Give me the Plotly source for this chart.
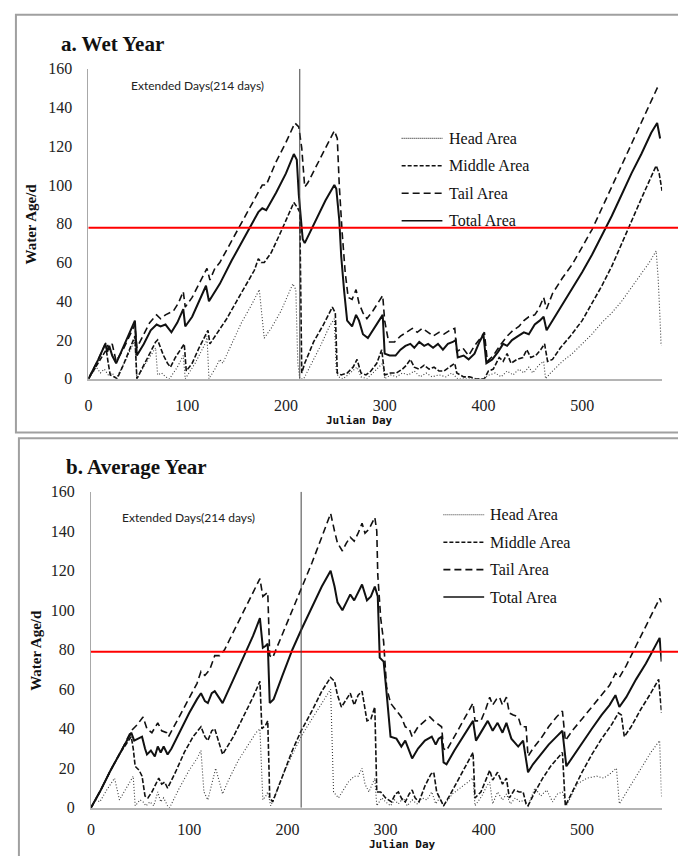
import plotly.graph_objects as go

W, H = 678, 856

# ---------------- data: (Julian day, water age in days) ----------------
wet_head = [(0,0),(4,3),(8,6),(12,3),(16,5),(20,2),(24,3),(28,0),(38,10),(47,20),(49,0),(58,8),(68,16),(70,2),(74,3),(78,1),(82,0),(90,6),(96,12),(98,0),(108,8),(115,15),(119,19),(120,22),(122,0),(128,5),(133,10),(136,8),(145,18),(155,29),(165,38),(173,46),(178,21),(185,26),(195,35),(203,44),(207,49),(210,46),(212,8),(214,0),(218,0),(225,7),(235,17),(244,27),(249,31),(251,4),(253,1),(258,0),(263,2),(268,4),(272,6),(276,1),(282,0),(288,3),(294,6),(298,8),(300,0),(306,2),(312,1),(318,3),(324,2),(330,4),(336,1),(342,3),(348,1),(355,2),(362,1),(368,3),(374,0),(400,0),(406,2),(412,3),(418,1),(424,4),(430,2),(436,5),(441,3),(446,6),(450,3),(456,7),(461,9),(463,0),(468,3),(474,6),(480,9),(490,13),(500,18),(510,23),(520,29),(530,34),(540,40),(550,47),(560,54),(568,60),(575,66),(577,52),(579,30),(580,17)]
wet_middle = [(0,0),(8,7),(14,12),(18,15),(20,8),(22,2),(26,1),(29,0),(36,8),(44,18),(47,22),(49,0),(55,6),(62,13),(68,19),(70,20),(73,16),(76,12),(80,8),(83,6),(88,11),(93,15),(97,18),(99,4),(105,8),(112,16),(118,22),(121,25),(123,18),(128,22),(133,26),(140,31),(150,40),(160,49),(168,56),(172,62),(175,60),(178,60),(185,65),(195,76),(203,85),(208,91),(212,88),(214,86),(216,3),(219,8),(228,19),(238,28),(247,37),(250,34),(252,3),(256,2),(262,3),(268,6),(272,10),(276,3),(281,2),(286,4),(292,8),(297,15),(300,2),(306,3),(312,3),(318,5),(322,7),(326,10),(330,6),(335,5),(340,7),(345,5),(350,6),(355,4),(360,4),(366,6),(371,8),(373,3),(380,1),(386,1),(392,0),(401,0),(405,4),(410,5),(416,11),(420,9),(424,13),(428,8),(434,10),(440,11),(444,15),(448,11),(453,12),(458,15),(462,18),(465,9),(470,10),(478,16),(488,22),(500,30),(510,39),(520,48),(530,58),(540,70),(548,79),(560,93),(570,104),(575,110),(578,106),(581,97)]
wet_tail = [(0,0),(10,10),(18,19),(21,15),(24,18),(28,9),(35,15),(47,28),(49,16),(55,22),(62,29),(69,33),(73,31),(78,33),(82,34),(86,35),(91,39),(96,45),(98,37),(105,42),(112,49),(120,57),(123,51),(128,57),(133,60),(145,71),(160,85),(172,96),(176,100),(180,100),(190,112),(200,122),(209,132),(213,130),(216,119),(219,99),(222,101),(235,114),(249,128),(252,124),(254,100),(257,75),(260,55),(263,42),(267,41),(271,46),(274,39),(278,34),(282,31),(288,35),(293,39),(298,43),(300,30),(304,19),(310,19),(316,22),(322,24),(328,26),(333,24),(338,26),(344,24),(349,22),(355,24),(360,23),(366,25),(371,26),(373,14),(379,16),(385,12),(391,17),(397,21),(401,24),(404,9),(410,12),(418,18),(424,22),(430,25),(436,27),(441,30),(446,32),(452,33),(456,36),(461,42),(464,36),(470,44),(480,52),(490,59),(500,68),(510,77),(520,88),(530,99),(540,110),(550,121),(560,132),(570,143),(576,150),(579,149)]
wet_total = [(0,0),(10,10),(17,18),(19,14),(21,17),(24,12),(28,8),(35,16),(47,30),(49,12),(56,18),(63,25),(69,28),(73,27),(78,28),(84,24),(90,29),(96,36),(98,27),(105,32),(112,40),(119,48),(122,40),(128,45),(133,49),(145,61),(160,75),(172,86),(176,88),(180,87),(190,96),(200,106),(208,116),(211,113),(213,95),(215,82),(217,72),(219,70),(230,82),(240,92),(249,100),(251,98),(254,82),(256,63),(259,45),(262,30),(267,27),(271,33),(274,30),(278,23),(283,21),(288,25),(294,30),(298,33),(300,13),(305,12),(311,12),(316,15),(321,17),(326,18),(330,16),(335,19),(340,17),(344,18),(349,16),(354,18),(359,15),(364,18),(369,19),(372,20),(374,11),(380,12),(385,10),(391,13),(396,19),(400,23),(403,8),(409,10),(415,14),(420,18),(424,17),(429,20),(435,22),(441,24),(446,23),(452,28),(457,30),(461,32),(464,25),(470,30),(480,38),(490,46),(500,55),(510,64),(520,74),(530,84),(540,95),(550,106),(560,116),(570,127),(576,132),(579,124)]

avg_head = [(0,0),(5,4),(9,3),(16,9),(24,15),(29,4),(36,10),(43,16),(45,1),(50,4),(53,3),(56,1),(60,3),(64,1),(68,8),(71,3),(74,5),(78,1),(80,0),(90,10),(100,19),(108,25),(112,29),(115,8),(119,4),(124,14),(127,20),(134,7),(140,14),(150,24),(160,32),(168,38),(172,40),(175,4),(178,6),(180,8),(183,1),(195,16),(205,27),(215,37),(225,45),(235,53),(244,60),(247,8),(252,5),(257,9),(262,13),(268,16),(272,16),(276,20),(279,12),(283,8),(286,12),(289,15),(291,1),(296,5),(300,3),(305,1),(309,4),(313,2),(318,5),(322,1),(327,4),(332,2),(337,5),(342,4),(347,8),(351,2),(355,5),(359,1),(368,7),(378,11),(389,15),(391,1),(398,6),(403,11),(406,13),(409,2),(414,8),(419,4),(423,7),(427,2),(432,5),(437,3),(441,4),(445,1),(452,10),(458,6),(464,9),(470,3),(475,7),(480,8),(484,1),(495,12),(505,15),(515,16),(522,15),(528,17),(535,20),(538,2),(550,12),(560,20),(570,28),(579,34),(581,5)]
avg_middle = [(0,0),(10,9),(20,19),(30,28),(41,36),(43,30),(45,21),(49,19),(52,16),(55,6),(58,5),(62,8),(66,12),(69,15),(72,12),(75,13),(78,10),(86,18),(95,28),(104,36),(112,41),(116,36),(119,34),(123,39),(126,40),(130,34),(134,27),(145,36),(155,46),(165,56),(172,64),(174,40),(178,42),(180,44),(182,5),(185,3),(195,16),(205,29),(214,39),(225,49),(235,59),(244,66),(248,64),(251,57),(255,51),(260,55),(264,58),(268,52),(272,57),(276,59),(281,44),(285,45),(289,51),(291,8),(295,8),(300,5),(306,3),(310,7),(313,8),(317,4),(320,3),(324,7),(327,9),(330,5),(334,3),(340,11),(346,17),(349,18),(352,8),(356,4),(359,1),(365,6),(375,15),(385,24),(389,28),(391,5),(397,8),(402,14),(406,19),(409,14),(414,18),(419,12),(423,15),(426,5),(431,9),(436,8),(440,8),(443,2),(445,1),(452,8),(460,15),(468,21),(475,25),(480,28),(483,1),(492,10),(500,18),(510,27),(520,35),(530,42),(537,48),(540,47),(543,36),(550,41),(560,50),(570,58),(578,65),(581,48)]
avg_tail = [(0,0),(10,9),(20,19),(30,28),(41,39),(47,42),(53,46),(57,40),(62,38),(68,43),(72,39),(77,38),(79,36),(90,46),(100,55),(108,63),(112,69),(116,67),(121,70),(126,77),(131,77),(136,80),(145,89),(155,99),(165,109),(172,116),(175,107),(178,108),(180,109),(182,77),(185,76),(195,88),(205,100),(214,111),(225,124),(235,137),(244,149),(248,140),(251,134),(256,130),(260,134),(264,137),(268,135),(272,139),(276,144),(279,139),(283,141),(289,147),(291,140),(292,118),(295,96),(298,84),(301,61),(305,53),(311,49),(316,46),(320,41),(324,40),(327,36),(333,41),(340,44),(345,46),(349,44),(352,43),(357,41),(359,30),(362,29),(370,36),(380,45),(389,53),(391,44),(397,44),(402,50),(406,56),(409,52),(413,55),(416,56),(419,52),(423,56),(426,48),(430,47),(435,46),(438,41),(443,41),(445,26),(450,30),(458,35),(466,41),(474,46),(480,49),(483,34),(490,39),(500,45),(510,51),(520,57),(528,62),(534,68),(538,66),(545,72),(555,82),(565,92),(573,100),(579,106),(581,104)]
avg_total = [(0,0),(10,9),(20,19),(30,28),(41,38),(44,34),(49,35),(52,36),(55,30),(57,27),(61,29),(65,26),(68,31),(71,28),(74,31),(78,27),(82,30),(90,38),(100,48),(108,55),(112,58),(116,54),(119,53),(123,58),(126,59),(130,56),(134,53),(145,65),(155,76),(165,87),(172,96),(175,81),(178,82),(180,83),(182,53),(186,55),(195,67),(205,80),(214,90),(225,102),(235,112),(244,120),(248,112),(251,104),(256,100),(260,104),(264,108),(268,105),(272,109),(276,113),(281,105),(285,107),(289,112),(292,107),(294,76),(298,74),(301,58),(305,36),(311,35),(316,31),(320,34),(324,29),(327,25),(333,30),(340,34),(347,36),(351,32),(354,35),(357,36),(359,23),(362,22),(370,29),(380,37),(389,44),(392,34),(398,39),(404,44),(409,39),(414,43),(419,38),(423,43),(428,35),(435,31),(440,34),(443,25),(445,18),(450,22),(458,27),(466,32),(474,36),(480,39),(484,21),(492,27),(500,33),(510,40),(520,47),(528,52),(534,57),(538,51),(545,56),(555,65),(565,73),(573,80),(579,86),(581,74)]

series_names = ["Head Area", "Middle Area", "Tail Area", "Total Area"]
panel_titles = ["a. Wet Year", "b. Average Year"]
age_threshold = [78, 79]          # red reference line per panel
extended_day = 214                # end of the extended period
extended_label = "Extended Days(214 days)"
x_ticks = [0, 100, 200, 300, 400, 500]
y_ticks = [0, 20, 40, 60, 80, 100, 120, 140, 160]

# ---------------- styling ----------------
SERIF = "Liberation Serif, Times New Roman, serif"
STYLES = {
    "Head Area":   dict(color="#3a3a3a", width=1.1, dash="1px,2px"),
    "Middle Area": dict(color="#111111", width=1.6, dash="5px,2px"),
    "Tail Area":   dict(color="#111111", width=1.6, dash="7px,4px"),
    "Total Area":  dict(color="#111111", width=2.0, dash="solid"),
}
LEGEND_DASH = {"Head Area": "1px,1px", "Middle Area": "4px,2px",
               "Tail Area": "7px,4px", "Total Area": "solid"}


def px(x):
    return x / W


def py(y):
    return 1 - y / H


fig = go.Figure()
panels = [
    dict(data=[wet_head, wet_middle, wet_tail, wet_total], xa="x", ya="y"),
    dict(data=[avg_head, avg_middle, avg_tail, avg_total], xa="x2", ya="y2"),
]
for p in panels:
    for name, pts in zip(series_names, p["data"]):
        fig.add_trace(go.Scatter(
            x=[d for d, _ in pts], y=[v for _, v in pts], mode="lines",
            name=name, line=STYLES[name], xaxis=p["xa"], yaxis=p["ya"],
            showlegend=False, hoverinfo="skip"))

# panel geometry in pixels: (left, right) of x axis, (bottom, top) of y axis
geo = [dict(xl=85, xr=662, yb=378.3, yt=62, xstand=11),
       dict(xl=87.5, xr=661.5, yb=816, yt=493.5, xstand=6)]

axis_common = dict(showgrid=False, zeroline=False, ticks="", showline=True,
                   tickfont=dict(family=SERIF, size=16, color="#222"),
                   fixedrange=True)
for i, g in enumerate(geo):
    sfx = "" if i == 0 else "2"
    fig.update_layout(**{
        "xaxis" + sfx: dict(axis_common, domain=[px(g["xl"]), px(g["xr"])],
                            range=[0, 581], tickvals=x_ticks,
                            anchor="y" + sfx, linecolor="#b4b4b4", linewidth=2,
                            ticklabelstandoff=g["xstand"]),
        "yaxis" + sfx: dict(axis_common, domain=[py(g["yb"]), py(g["yt"])],
                            range=[0, 160], tickvals=y_ticks,
                            anchor="x" + sfx, linecolor="#a8a8a8", linewidth=1,
                            ticklabelstandoff=12),
    })

shapes, annotations = [], []

# panel frames
for (x0, y0, y1) in [(12, 7, 433), (15, 439, 880)]:
    shapes.append(dict(type="rect", xref="paper", yref="paper",
                       x0=px(x0), x1=px(700), y0=py(y1), y1=py(y0),
                       line=dict(color="#a0a0a0", width=2), layer="below"))

for i, g in enumerate(geo):
    sfx = "" if i == 0 else "2"
    # threshold line across the panel
    shapes.append(dict(type="line", xref="paper", yref="y" + sfx,
                       x0=px(g["xl"]), x1=1.0,
                       y0=age_threshold[i], y1=age_threshold[i],
                       line=dict(color="#ff0000", width=2)))
    # end of the extended period
    shapes.append(dict(type="line", xref="x" + sfx, yref="y" + sfx,
                       x0=extended_day, x1=extended_day, y0=0, y1=160,
                       line=dict(color="#444", width=1)))

# titles, axis titles, notes
title_pos = [(55, 37), (60, 468)]
ytitle_pos = [(27, 220), (32, 655)]
xtitle_pos = [(358, 421), (401, 853)]
note_pos = [(195, 79), (186, 520)]
for i in range(2):
    annotations.append(dict(text=panel_titles[i], xref="paper", yref="paper",
                            x=px(title_pos[i][0]), y=py(title_pos[i][1]),
                            xanchor="left", yanchor="middle", showarrow=False,
                            font=dict(family=SERIF, size=21, color="#111",
                                      weight="bold")))
    annotations.append(dict(text="Water Age/d", xref="paper", yref="paper",
                            x=px(ytitle_pos[i][0]), y=py(ytitle_pos[i][1]),
                            xanchor="center", yanchor="middle",
                            textangle=-90, showarrow=False,
                            font=dict(family=SERIF, size=15, color="#111",
                                      weight="bold")))
    annotations.append(dict(text="Julian Day", xref="paper", yref="paper",
                            x=px(xtitle_pos[i][0]), y=py(xtitle_pos[i][1]),
                            xanchor="center", yanchor="middle",
                            showarrow=False, borderpad=0,
                            font=dict(family="DejaVu Sans Mono", size=11,
                                      color="#111", weight="bold")))
    annotations.append(dict(text=extended_label, xref="paper", yref="paper",
                            x=px(note_pos[i][0]), y=py(note_pos[i][1]),
                            xanchor="center", yanchor="middle",
                            showarrow=False,
                            font=dict(family="Lato, Open Sans, sans-serif",
                                      size=12, color="#222")))

# legends
legend_pos = [dict(x0=400, x1=441, tx=446, rows=[133, 161, 189, 217]),
              dict(x0=442, x1=483, tx=487, rows=[517, 545, 573, 601])]
for lg in legend_pos:
    for name, yrow in zip(series_names, lg["rows"]):
        st = STYLES[name]
        shapes.append(dict(type="line", xref="paper", yref="paper",
                           x0=px(lg["x0"]), x1=px(lg["x1"]),
                           y0=py(yrow), y1=py(yrow),
                           line=dict(color=st["color"],
                                     width=1.6 if name != "Head Area" else 1.1,
                                     dash=LEGEND_DASH[name])))
        annotations.append(dict(text=name, xref="paper", yref="paper",
                                x=px(lg["tx"]), y=py(yrow), xanchor="left",
                                yanchor="middle", showarrow=False,
                                font=dict(family=SERIF, size=16, color="#111")))

fig.update_layout(width=W, height=H, autosize=False,
                  margin=dict(l=0, r=0, t=0, b=0),
                  paper_bgcolor="white", plot_bgcolor="white",
                  shapes=shapes, annotations=annotations, showlegend=False)

fig.write_html("out.html")
